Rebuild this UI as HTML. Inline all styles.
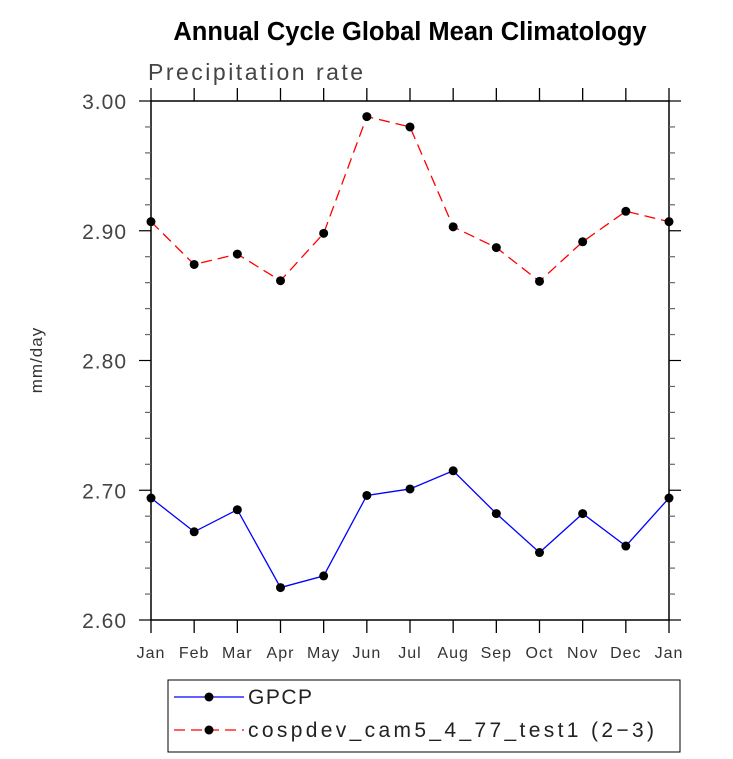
<!DOCTYPE html>
<html><head><meta charset="utf-8"><style>
body{margin:0;background:#fff}
svg text{font-family:"Liberation Sans",sans-serif}
</style></head><body>
<svg id="c" width="733" height="754" xmlns="http://www.w3.org/2000/svg">
<text x="410" y="40" text-anchor="middle" font-size="25.5" font-weight="bold">Annual Cycle Global Mean Climatology</text>
<text x="148" y="80" font-size="23" fill="#444" letter-spacing="2.5">Precipitation rate</text>
<text transform="translate(42,360) rotate(-90)" text-anchor="middle" font-size="17" fill="#333" letter-spacing="1">mm/day</text>
<g id="axes"></g>
<g id="series"></g>
<rect x="168" y="680" width="512" height="72" fill="none" stroke="#000" stroke-width="1"/>
<g>
<line x1="174" y1="697" x2="244" y2="697" stroke="#0000ff" stroke-width="1.3"/><circle cx="209" cy="697" r="4.5"/>
<text x="248" y="704" font-size="21" fill="#222" letter-spacing="1.5">GPCP</text></g>
<g>
<line x1="174" y1="730" x2="244" y2="730" stroke="#ff0000" stroke-width="1.3" stroke-dasharray="11,6"/><circle cx="209" cy="730" r="4.5"/>
<text x="248" y="737" font-size="21" fill="#222" textLength="406" lengthAdjust="spacing">cospdev_cam5_4_77_test1 (2−3)</text></g>
</svg>
<script>
const months=["Jan","Feb","Mar","Apr","May","Jun","Jul","Aug","Sep","Oct","Nov","Dec","Jan"];
const gpcp=[2.694,2.668,2.685,2.625,2.634,2.696,2.701,2.715,2.682,2.652,2.682,2.657,2.694];
const test=[2.907,2.874,2.882,2.8615,2.898,2.988,2.980,2.903,2.887,2.861,2.8915,2.915,2.907];
const yTicks=[2.60,2.70,2.80,2.90,3.00];
const X0=151,X1=669,Y0=620,Y1=101,ymin=2.6,ymax=3.0;
const xs=i=>X0+(X1-X0)*i/(months.length-1);
const ys=v=>Y0-(v-ymin)/(ymax-ymin)*(Y0-Y1);
const NS="http://www.w3.org/2000/svg";
function mk(t,a,p){const e=document.createElementNS(NS,t);for(const k in a)e.setAttribute(k,a[k]);p.appendChild(e);return e;}
const ax=document.getElementById('axes');
const fr=mk('rect',{x:X0,y:Y1,width:X1-X0,height:Y0-Y1,fill:'none',stroke:'#000','stroke-width':1.5},ax);


months.forEach((m,i)=>{const x=xs(i);
mk('line',{x1:x,y1:Y0,x2:x,y2:Y0+13,stroke:'#000','stroke-width':1.3},ax);
mk('line',{x1:x,y1:Y1,x2:x,y2:Y1-13,stroke:'#000','stroke-width':1.3},ax);
const t=mk('text',{x:x,y:Y0+38,'text-anchor':'middle','font-size':16,fill:'#333','letter-spacing':1},ax);t.textContent=m;

});
for(let v=ymin;v<=ymax+1e-9;v+=0.02){const y=ys(v);const maj=Math.abs(Math.round(v*10)-v*10)<1e-6;const L=maj?12:6;
mk('line',{x1:X0,y1:y,x2:X0-L,y2:y,stroke:maj?'#000':'#666','stroke-width':1.2},ax);
mk('line',{x1:X1,y1:y,x2:X1+L,y2:y,stroke:maj?'#000':'#666','stroke-width':1.2},ax);}
yTicks.forEach(v=>{const t=mk('text',{x:X0-24,y:ys(v)+8,'text-anchor':'end','font-size':21,fill:'#444','letter-spacing':1},ax);t.textContent=v.toFixed(2);

});
const sg=document.getElementById('series');
function draw(data,col,dash,name){
const p=mk('polyline',{points:data.map((v,i)=>xs(i)+','+ys(v)).join(' '),fill:'none',stroke:col,'stroke-width':1.3,'stroke-dasharray':dash},sg);


data.forEach((v,i)=>{const c=mk('circle',{cx:xs(i),cy:ys(v),r:4.5,fill:'#000'},sg);

});}
draw(test,'#ff0000','11,6','test');
draw(gpcp,'#0000ff','none','gpcp');
</script>
</body></html>
